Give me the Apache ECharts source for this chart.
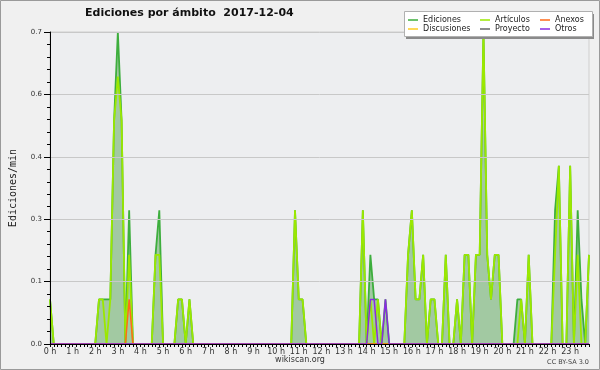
<!DOCTYPE html>
<html><head><meta charset="utf-8">
<script src="https://cdn.jsdelivr.net/npm/echarts@6/dist/echarts.min.js"></script>
<style>html,body{margin:0;padding:0;background:#f0f0f0}#c{width:600px;height:370px}</style>
</head><body><div id="c"></div><script>
// Hour tick labels
const hourLabels = ['0 h','1 h','2 h','3 h','4 h','5 h','6 h','7 h','8 h','9 h','10 h','11 h',
  '12 h','13 h','14 h','15 h','16 h','17 h','18 h','19 h','20 h','21 h','22 h','23 h'];
const yTitle = 'Ediciones/min';
const chartTitle = 'Ediciones por ámbito  2017-12-04';
// 10-minute bins, one row per hour (values in edits/min)
const ediciones = [
  0.1,0,0,0,0,0,        // 0 h
  0,0,0,0,0,0,          // 1 h
  0,0.1,0.1,0.1,0.1,0.5,// 2 h
  0.7,0.5,0,0.3,0,0,    // 3 h
  0,0,0,0,0.2,0.3,      // 4 h
  0,0,0,0,0.1,0.1,      // 5 h
  0,0.1,0,0,0,0,        // 6 h
  0,0,0,0,0,0,          // 7 h
  0,0,0,0,0,0,          // 8 h
  0,0,0,0,0,0,          // 9 h
  0,0,0,0,0,0.3,        // 10 h
  0.1,0.1,0,0,0,0,      // 11 h
  0,0,0,0,0,0,          // 12 h
  0,0,0,0,0,0.3,        // 13 h
  0,0.2,0.1,0.1,0,0.1,  // 14 h
  0,0,0,0,0,0.2,        // 15 h
  0.3,0.1,0.1,0.2,0,0.1,// 16 h
  0.1,0,0,0.2,0,0,      // 17 h
  0.1,0,0.2,0.2,0,0.2,  // 18 h
  0.2,0.7,0.2,0.1,0.2,0.2, // 19 h
  0,0,0,0,0.1,0.1,      // 20 h
  0,0.2,0,0,0,0,        // 21 h
  0,0,0.3,0.4,0,0,      // 22 h
  0.4,0,0.3,0.1,0,0.2   // 23 h
];
const articulos = [
  0.1,0,0,0,0,0,
  0,0,0,0,0,0,
  0,0.1,0.1,0,0.1,0.5,
  0.6,0.5,0,0.2,0,0,
  0,0,0,0,0.2,0.2,
  0,0,0,0,0.1,0.1,
  0,0.1,0,0,0,0,
  0,0,0,0,0,0,
  0,0,0,0,0,0,
  0,0,0,0,0,0,
  0,0,0,0,0,0.3,
  0.1,0.1,0,0,0,0,
  0,0,0,0,0,0,
  0,0,0,0,0,0.3,
  0,0.1,0,0.1,0,0,
  0,0,0,0,0,0.2,
  0.3,0.1,0.1,0.2,0,0.1,
  0.1,0,0,0.2,0,0,
  0.1,0,0.2,0.2,0,0.2,
  0.2,0.7,0.2,0.1,0.2,0.2,
  0,0,0,0,0,0.1,
  0,0.2,0,0,0,0,
  0,0,0.2,0.4,0,0,
  0.4,0,0.2,0,0,0.2
];
const anexos = [
  0,0,0,0,0,0, 0,0,0,0,0,0, 0,0,0,0,0,0, 0,0,0,0.1,0,0,
  0,0,0,0,0,0, 0,0,0,0,0,0, 0,0,0,0,0,0, 0,0,0,0,0,0,
  0,0,0,0,0,0, 0,0,0,0,0,0, 0,0,0,0,0,0, 0,0,0,0,0,0,
  0,0,0,0,0,0, 0,0,0,0,0,0, 0,0,0,0,0,0, 0,0,0,0,0,0,
  0,0,0,0,0,0, 0,0,0,0,0,0, 0,0,0,0,0,0, 0,0,0,0,0,0,
  0,0,0,0,0,0, 0,0,0,0,0,0, 0,0,0,0,0,0, 0,0,0,0,0,0
];
const discusiones = [
  0,0,0,0,0,0, 0,0,0,0,0,0, 0,0,0,0,0,0, 0,0,0,0,0,0,
  0,0,0,0,0,0, 0,0,0,0,0,0, 0,0,0,0,0,0, 0,0,0,0,0,0,
  0,0,0,0,0,0, 0,0,0,0,0,0, 0,0,0,0,0,0, 0,0,0,0,0,0,
  0,0,0,0,0,0, 0,0,0,0,0,0, 0,0,0,0,0,0, 0,0,0,0,0,0,
  0,0,0,0,0,0, 0,0,0,0,0,0, 0,0,0,0,0,0, 0,0,0,0,0,0,
  0,0,0,0,0,0, 0,0,0,0,0,0, 0,0,0,0,0,0, 0,0,0,0,0,0
];
const proyecto = [
  0,0,0,0,0,0, 0,0,0,0,0,0, 0,0,0,0,0,0, 0,0,0,0,0,0,
  0,0,0,0,0,0, 0,0,0,0,0,0, 0,0,0,0,0,0, 0,0,0,0,0,0,
  0,0,0,0,0,0, 0,0,0,0,0,0, 0,0,0,0,0,0, 0,0,0,0,0,0,
  0,0,0,0,0,0, 0,0,0,0,0,0, 0,0,0,0,0,0, 0,0,0,0,0,0,
  0,0,0,0,0,0, 0,0,0,0,0,0, 0,0,0,0,0,0, 0,0,0,0,0,0,
  0,0,0,0,0,0, 0,0,0,0,0,0, 0,0,0,0,0,0, 0,0,0,0,0,0
];
const otros = [
  0,0,0,0,0,0, 0,0,0,0,0,0, 0,0,0,0,0,0, 0,0,0,0,0,0,
  0,0,0,0,0,0, 0,0,0,0,0,0, 0,0,0,0,0,0, 0,0,0,0,0,0,
  0,0,0,0,0,0, 0,0,0,0,0,0, 0,0,0,0,0,0, 0,0,0,0,0,0,
  0,0,0,0,0,0, 0,0,0,0,0,0, 0,0,0,0,0,0, 0,0,0,0,0,0,
  0,0,0,0,0,0, 0,0,0,0,0,0, 0,0,0,0,0,0, 0,0,0,0,0,0,
  0,0,0,0,0,0, 0,0,0,0,0,0, 0,0,0,0,0,0, 0,0,0,0,0,0
];
otros[85] = 0.1; otros[86] = 0.1; otros[89] = 0.1;

const categories = [];
for (let h = 0; h < 24; h++) for (let m = 0; m < 60; m += 10)
  categories.push(String(h).padStart(2,'0') + ':' + String(m).padStart(2,'0'));

const chart = echarts.init(document.getElementById('c'), null, {renderer:'canvas'});
const F = 'DejaVu Sans';
function lineSeries(name, data, color, width, extra) {
  return Object.assign({
    name, type:'line', data, symbol:'none', color,
    lineStyle:{color, width}, animation:false, z:2
  }, extra || {});
}
const legendBase = {
  orient:'vertical', top:15.5, padding:0, itemGap:0, itemWidth:10, itemHeight:1.5,
  icon:'rect', selectedMode:false, z:30,
  textStyle:{fontFamily:F, fontSize:8, color:'#222', lineHeight:9}
};
chart.setOption({
  backgroundColor:'#f0f0f0',
  animation:false,
  title:{text:chartTitle, left:85, top:8, padding:0,
    textStyle:{fontFamily:F, fontWeight:'bold', fontSize:11, color:'#111'}},
  legend:[
    Object.assign({}, legendBase, {left:408, data:['Ediciones','Discusiones']}),
    Object.assign({}, legendBase, {left:480, data:['Artículos','Proyecto']}),
    Object.assign({}, legendBase, {left:540, data:['Anexos','Otros']})
  ],
  grid:{left:46, right:11, top:32, bottom:26, show:true, backgroundColor:'#edeef0',
    borderColor:'#cfcfcf', borderWidth:1},
  xAxis:{type:'category', data:categories, boundaryGap:false, z:10,
    axisLine:{lineStyle:{color:'#000', width:1}},
    axisTick:{show:true, interval:0, length:3, lineStyle:{color:'#000'}},
    axisLabel:{interval:(i)=> i % 6 === 0, formatter:(v,i)=> hourLabels[i/6],
      fontFamily:F, fontSize:8, color:'#333', margin:4},
    splitLine:{show:false}},
  yAxis:{type:'value', min:0, max:0.7, interval:0.14, z:10,
    name:yTitle, nameLocation:'middle', nameRotate:90, nameGap:32,
    nameTextStyle:{fontFamily:'DejaVu Sans Mono', fontSize:10, color:'#222'},
    axisLine:{show:true, lineStyle:{color:'#000', width:1}},
    axisTick:{show:true, length:6, lineStyle:{color:'#000'}},
    minorTick:{show:true, splitNumber:5, length:3, lineStyle:{color:'#000'}},
    axisLabel:{formatter:(v)=> v.toFixed(1), fontFamily:F, fontSize:7, color:'#333', margin:8},
    splitLine:{show:true, lineStyle:{color:'#c8c8c8', width:1}}},
  graphic:[
    {type:'rect', shape:{x:0.5, y:0.5, width:599, height:369}, style:{fill:'none', stroke:'#9a9a9a', lineWidth:1}, z:0, silent:true},
    {type:'rect', shape:{x:406, y:14, width:188, height:25}, style:{fill:'#8a8a8a'}, z:25, silent:true},
    {type:'rect', shape:{x:404.5, y:11.5, width:188, height:25}, style:{fill:'#ffffff', stroke:'#b0b0b0', lineWidth:1}, z:26, silent:true},
    {type:'text', left:'center', top:356, style:{text:'wikiscan.org', font:'8px "DejaVu Sans"', fill:'#333'}, z:30},
    {type:'text', right:11, top:359, style:{text:'CC BY-SA 3.0', font:'6.5px "DejaVu Sans"', fill:'#444'}, z:30}
  ],
  series:[
    lineSeries('Ediciones', ediciones, '#3dae3d', 1.8, {areaStyle:{color:'#a2c9a2', opacity:1}}),
    lineSeries('Discusiones', discusiones, '#ffcc22', 1.5),
    lineSeries('Proyecto', proyecto, '#666666', 1.5),
    lineSeries('Artículos', articulos, '#9be800', 1.8),
    lineSeries('Anexos', anexos, '#ff6a1a', 1.5),
    lineSeries('Otros', otros, '#8a2be2', 1.5)
  ]
});
</script></body></html>
